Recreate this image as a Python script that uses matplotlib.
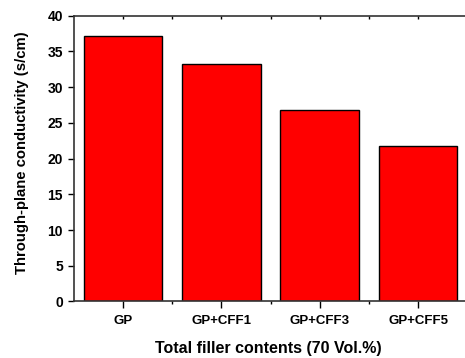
import matplotlib
matplotlib.use("Agg")
import matplotlib.pyplot as plt
from matplotlib.ticker import MultipleLocator, FixedLocator

categories = ["GP", "GP+CFF1", "GP+CFF3", "GP+CFF5"]
values = [37.1, 33.3, 26.8, 21.7]

plt.rcParams['font.family'] = ['Liberation Sans', 'DejaVu Sans']
plt.rcParams['font.weight'] = 'bold'

fig = plt.figure(figsize=(4.65, 3.58), dpi=100)
ax = fig.add_axes([0.159, 0.158, 1.005 - 0.159, 0.956 - 0.158])
x = list(range(len(categories)))
ax.bar(x, values, width=0.8, color='#ff0000', edgecolor='black', linewidth=1.0, zorder=2)
ax.set_xlim(-0.5, 3.5)
ax.set_ylim(0, 40)
ax.set_xticks(x)
ax.set_xticklabels(categories, fontsize=9.5, fontweight='bold')
ax.xaxis.set_minor_locator(FixedLocator([0.5, 1.5, 2.5]))
ax.yaxis.set_major_locator(MultipleLocator(5))
ax.tick_params(axis='y', labelsize=10, direction='out', length=4.5, width=1)
ax.tick_params(axis='x', which='major', direction='out', length=5, width=1, pad=5)
ax.tick_params(axis='x', which='minor', direction='out', length=2.5, width=1)
ax.tick_params(axis='x', which='both', top=True)
for lbl in ax.get_yticklabels():
    lbl.set_fontweight('bold')
for s in ax.spines.values():
    s.set_linewidth(1.2)
    s.set_color('#333333')
# top ticks: small inward
for t in ax.xaxis.get_major_ticks() + ax.xaxis.get_minor_ticks():
    t.tick2line.set_marker(3)  # TICKDOWN
    t.tick2line.set_markersize(2.5)
ax.set_ylabel("Through-plane conductivity (s/cm)", fontsize=10.7, fontweight='bold')
ax.yaxis.label.set_va('center')
ax.yaxis.set_label_coords(-0.132, 0.52)
ax.set_xlabel("Total filler contents (70 Vol.%)", fontsize=11.5, fontweight='bold')
ax.xaxis.label.set_va('center')
ax.xaxis.set_label_coords(0.493, -0.166)
fig.savefig("out.png", dpi=100)
